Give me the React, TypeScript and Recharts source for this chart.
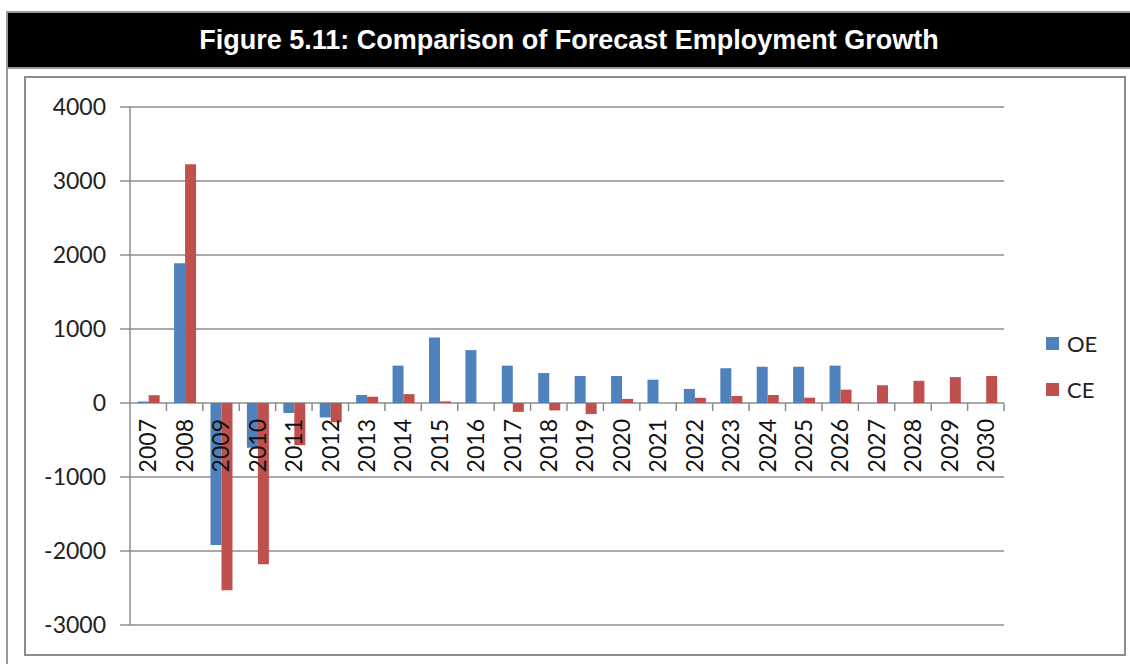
import React from 'react';
import { Bar, BarChart, CartesianGrid, Legend, ReferenceDot, XAxis, YAxis } from 'recharts';

const years = [
  '2007', '2008', '2009', '2010', '2011', '2012', '2013', '2014', '2015', '2016', '2017', '2018',
  '2019', '2020', '2021', '2022', '2023', '2024', '2025', '2026', '2027', '2028', '2029', '2030',
];
const oeValues = [
  20, 1890, -1920, -605, -135, -195, 108, 505, 885, 715, 505, 405,
  365, 365, 315, 190, 470, 490, 490, 505, null, null, null, null,
];
const ceValues = [
  105, 3225, -2530, -2180, -570, -260, 85, 120, 22, 0, -120, -100,
  -150, 55, 0, 70, 95, 108, 72, 180, 240, 300, 350, 365,
];
const seriesNames = ['OE', 'CE'];
const yTicks = [-3000, -2000, -1000, 0, 1000, 2000, 3000, 4000];

const data = years.map((year, i) => ({ year, OE: oeValues[i], CE: ceValues[i] }));

const W = 1130;
const H = 664;
const margin = { top: 107, right: 126, bottom: 39, left: 30 };
const Y_AXIS_W = 100;
const step = (W - margin.left - margin.right - Y_AXIS_W) / years.length;

const FONT = 'Lato, "Open Sans", sans-serif';
const GRID = '#8c8c8c';

// year label + boundary tick, placed at (year, 0) so the axis sits on the zero line
const YearMark = (props: any) => {
  const { cx, cy, year } = props;
  const ly = cy + 16;
  return (
    <g>
      <line x1={cx + step / 2} x2={cx + step / 2} y1={cy} y2={cy + 8} stroke={GRID} strokeWidth={1.5} />
      <text
        x={cx}
        y={ly}
        dy="0.36em"
        transform={`rotate(-90 ${cx} ${ly})`}
        textAnchor="end"
        fontFamily={FONT}
        fontSize={23}
        fill="#111"
      >
        {year}
      </text>
    </g>
  );
};

// zero-size wrapper so the legend doesn't eat into the plot area
const renderLegend = (props: any) => {
  const items = [...props.payload].sort(
    (a: any, b: any) => seriesNames.indexOf(a.value) - seriesNames.indexOf(b.value)
  );
  return (
    <div style={{ width: 0, height: 0, overflow: 'visible', position: 'relative' }}>
      <div style={{ position: 'absolute', left: 0, top: 0, fontFamily: FONT, fontSize: 22, color: '#222' }}>
        {items.map((entry: any) => (
          <div key={entry.value} style={{ display: 'flex', alignItems: 'center', height: 46 }}>
            <span style={{ width: 13, height: 13, background: entry.color, marginRight: 8, display: 'inline-block' }} />
            <span>{entry.value}</span>
          </div>
        ))}
      </div>
    </div>
  );
};

export default function App() {
  return (
    <div style={{ position: 'fixed', left: 0, top: 0, width: W, height: H, overflow: 'hidden', background: '#fff' }}>
      <div
        style={{
          position: 'absolute', left: 6, top: 11, width: W, height: H,
          borderLeft: '2px solid #999', borderTop: '2px solid #999',
        }}
      />
      <div
        style={{
          position: 'absolute', left: 8, top: 13, width: W - 8, height: 54,
          background: '#000', borderBottom: '2px solid #999',
          color: '#fff', fontFamily: '"Liberation Sans", Arial, sans-serif', fontWeight: 'bold', fontSize: 27,
          display: 'flex', alignItems: 'center', justifyContent: 'center', paddingRight: 8,
          boxSizing: 'content-box',
        }}
      >
        Figure 5.11: Comparison of Forecast Employment Growth
      </div>
      <div
        style={{
          position: 'absolute', left: 24, top: 76, width: 1102, height: 580,
          border: '2px solid #8c8c8c', boxSizing: 'border-box',
        }}
      />
      <div style={{ position: 'absolute', left: 0, top: 0 }}>
        <BarChart width={W} height={H} data={data} margin={margin} barCategoryGap="21%" barGap={0}>
          <CartesianGrid vertical={false} stroke={GRID} strokeWidth={1.5} />
          <XAxis dataKey="year" hide />
          <YAxis
            width={Y_AXIS_W}
            domain={[-3000, 4000]}
            ticks={yTicks}
            interval={0}
            tickSize={10}
            tickMargin={14}
            axisLine={{ stroke: GRID, strokeWidth: 1.5 }}
            tickLine={{ stroke: GRID, strokeWidth: 1.5 }}
            tick={{ fill: '#222', fontSize: 23, fontFamily: FONT }}
          />
          <Legend
            content={renderLegend}
            wrapperStyle={{ left: 1046, top: 320, width: 0, height: 0 }}
          />
          <Bar dataKey="OE" name="OE" fill="#4F81BD" isAnimationActive={false} />
          <Bar dataKey="CE" name="CE" fill="#C0504D" isAnimationActive={false} />
          {years.map((year) => (
            <ReferenceDot
              key={year}
              x={year}
              y={0}
              r={0}
              shape={(p: any) => <YearMark {...p} year={year} />}
            />
          ))}
        </BarChart>
      </div>
    </div>
  );
}
